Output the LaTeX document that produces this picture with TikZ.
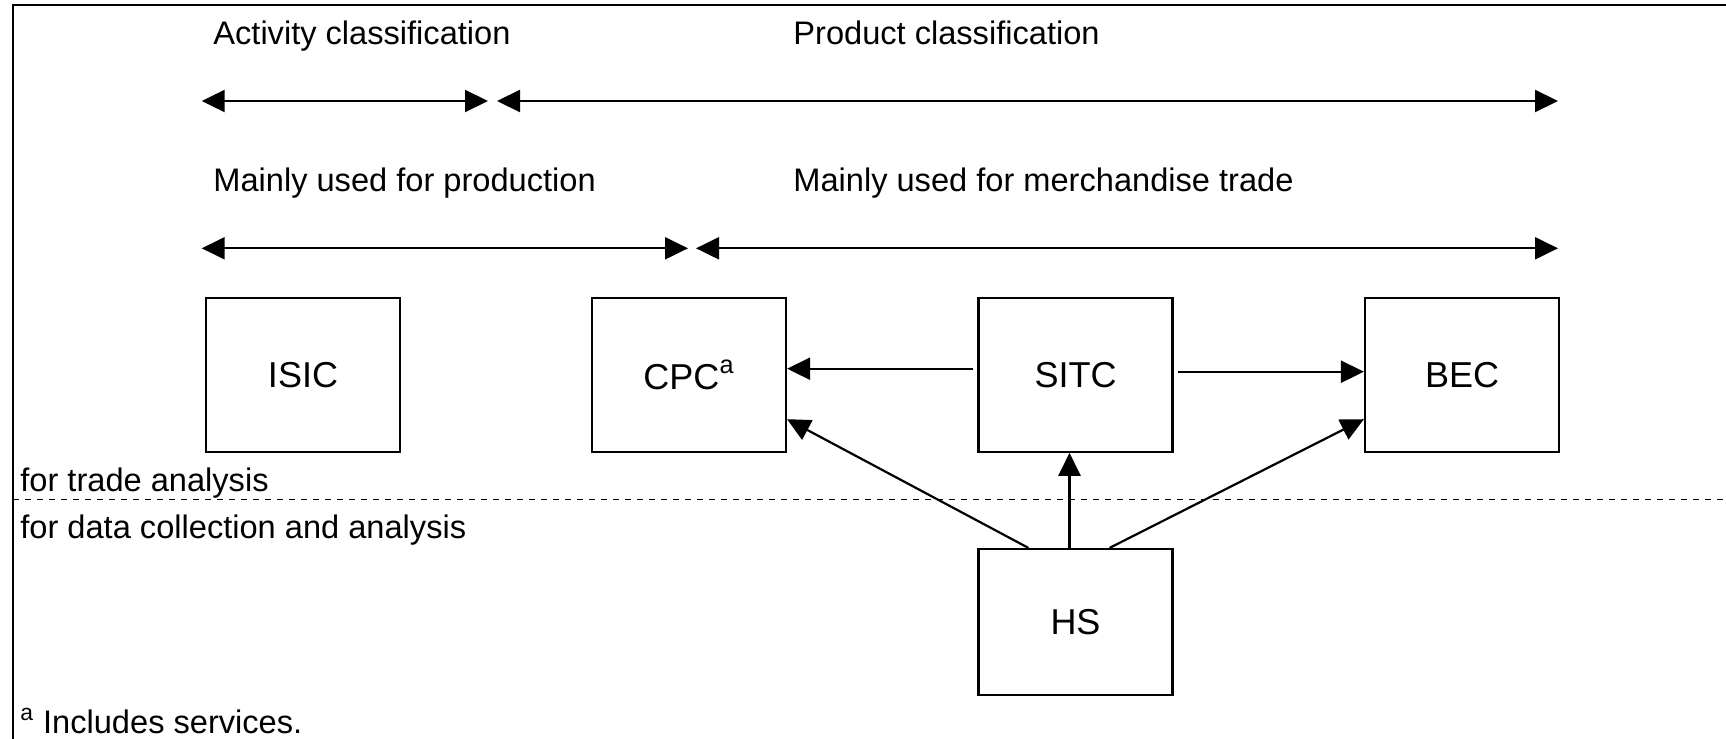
\documentclass[tikz,border=0pt]{standalone}
\usepackage{fontspec}
\setmainfont{Liberation Sans}
\usetikzlibrary{arrows.meta}
\begin{document}
\begin{tikzpicture}[x=0.5pt,y=-0.5pt,
  lbl/.style={anchor=base west,inner sep=0pt,font=\fontsize{16.3}{18}\selectfont},
  cls/.style={draw,line width=1.1pt,minimum width=97pt,minimum height=77pt,inner sep=0pt,font=\fontsize{18}{20}\selectfont},
  arr/.style={line width=1.1pt,-{Triangle[length=11.5pt,width=11pt]}},
  darr/.style={line width=1.1pt,{Triangle[length=11.5pt,width=11pt]}-{Triangle[length=11.5pt,width=11pt]}}]
\useasboundingbox (0,0) rectangle (1726,739);
% frame
\draw[line width=1.3pt] (13,739) -- (13,5) -- (1726,5);
% headings
\node[lbl] (act) at (213,45) {Activity classification};
\node[lbl] (prod) at (793,45) {Product classification};
\node[lbl] (mprod) at (213,191.7) {Mainly used for production};
\node[lbl] (mtrade) at (793,191.7) {Mainly used for merchandise trade};
% range arrows
\coordinate (r1a) at (201.7,101);
\coordinate (r1b) at (488,101);
\coordinate (r2a) at (497,101);
\coordinate (r2b) at (1558,101);
\coordinate (r3a) at (201.7,248.3);
\coordinate (r3b) at (688,248.3);
\coordinate (r4a) at (696,248.3);
\coordinate (r4b) at (1558,248.3);
\draw[darr] (r1a) -- (r1b);
\draw[darr] (r2a) -- (r2b);
\draw[darr] (r3a) -- (r3b);
\draw[darr] (r4a) -- (r4b);
% boxes
\node[cls] (isic) at (303,374.7) {ISIC};
\node[cls] (cpc) at (689,374.7) {CPC\raisebox{2pt}{\textsuperscript{a}}};
\node[cls] (sitc) at (1075.5,374.7) {SITC};
\node[cls] (bec) at (1462,374.7) {BEC};
\node[cls,minimum height=73pt] (hs) at (1075.5,622) {HS};
% connectors
\draw[arr,shorten <=2pt] ([yshift=3pt]sitc.west) -- ([yshift=3pt]cpc.east);
\draw[arr,shorten <=2pt] ([yshift=1.5pt]sitc.east) -- ([yshift=1.5pt]bec.west);
\draw[arr] ([xshift=-3pt]hs.north) -- ([xshift=-3pt]sitc.south);
\draw[arr] ([xshift=25.5pt]hs.north west) -- ([yshift=16.8pt]cpc.south east);
\draw[arr] ([xshift=-32pt]hs.north east) -- ([yshift=16.8pt]bec.south west);
% trade / data split
\coordinate (dl) at (13,499.5);
\coordinate (dr) at (1726,499.5);
\draw[line width=0.9pt,dash pattern=on 3pt off 3pt] (dl) -- (dr);
\node[lbl] (trade) at (20,491) {for trade analysis};
\node[lbl] (data) at (20,538) {for data collection and analysis};
\node[lbl] (foot) at (20,733) {\textsuperscript{a} Includes services.};
\end{tikzpicture}
\end{document}
